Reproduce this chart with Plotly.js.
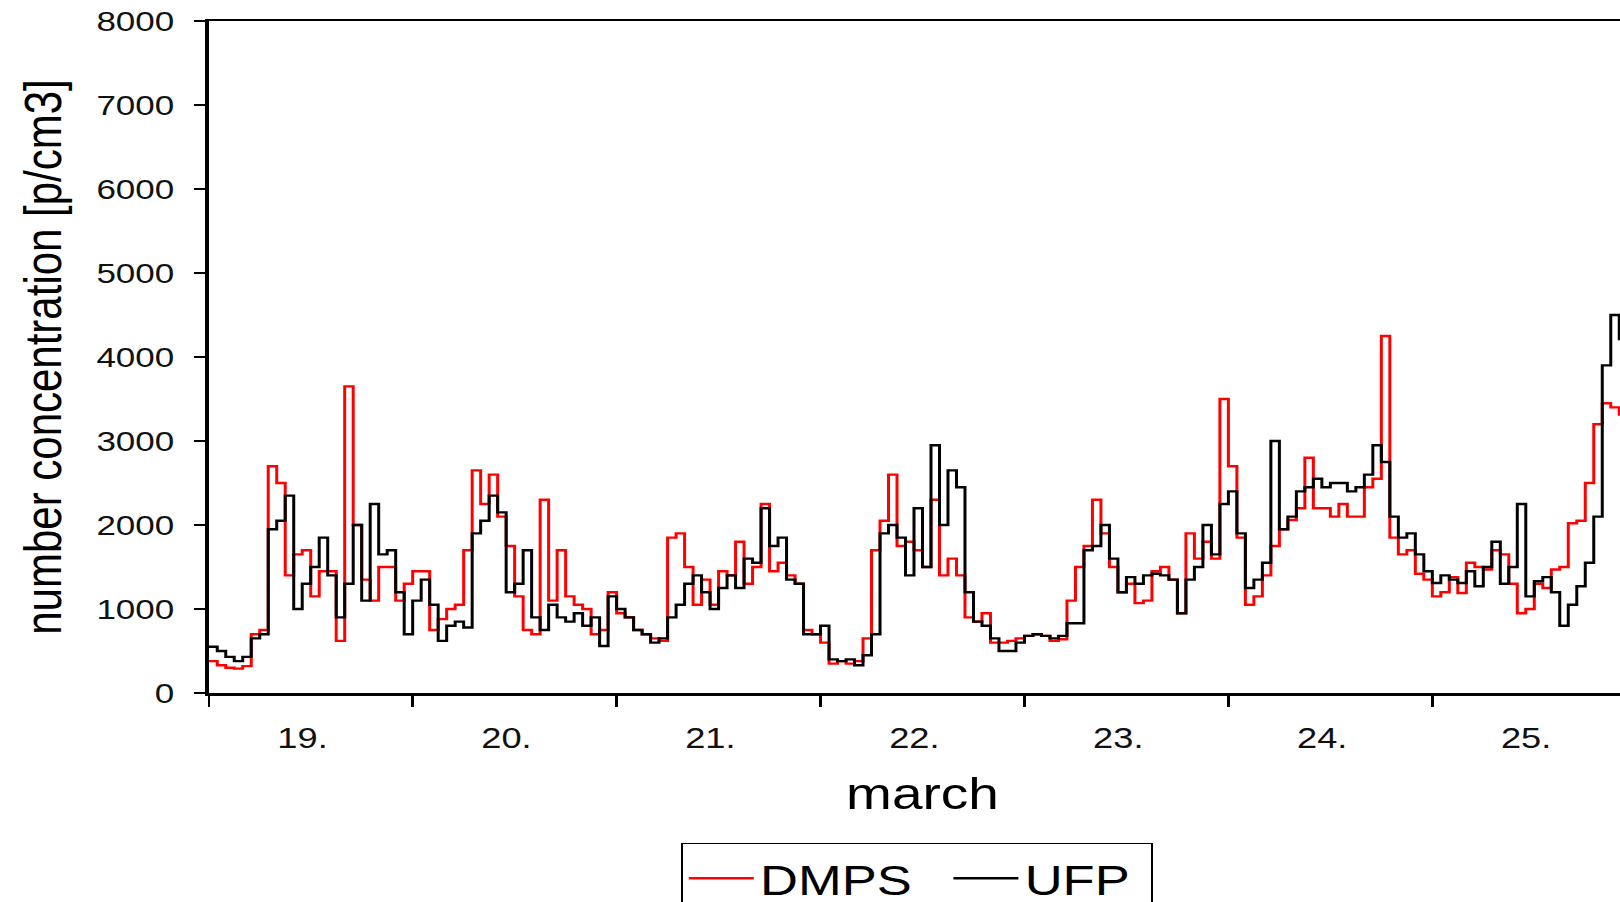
<!DOCTYPE html>
<html><head><meta charset="utf-8">
<script src="https://cdn.plot.ly/plotly-3.0.1.min.js"></script>
<style>
html,body{margin:0;padding:0;overflow:hidden;background:#fff;width:1620px;height:902px}
#wrap{position:absolute;left:0;top:0;transform:scaleX(1.25);transform-origin:0 0}
#chart{width:1320px;height:930px}
</style></head><body>
<div id="wrap"><div id="chart"></div></div>
<script>
// time grid: hourly values starting at 19 March 00:00
const startDay = 19;
const hoursPerStep = 1;

const dmps = [380,330,300,290,320,700,750,2700,2500,1400,
 1650,1700,1150,1450,1450,620,3650,2000,1350,1100,
 1500,1500,1100,1300,1450,1450,750,880,1000,1050,
 1700,2650,2250,2600,2100,1750,1150,750,700,2300,
 1100,1700,1150,1050,1000,700,750,1200,950,900,
 750,700,650,620,1850,1900,1500,1050,1350,1050,
 1450,1400,1800,1300,1500,2250,1450,1550,1400,1300,
 750,700,600,350,380,350,380,650,1700,2050,
 2600,1750,1800,1700,1500,2300,1400,1600,1400,900,
 850,950,600,600,620,650,680,700,680,620,
 640,1100,1500,1750,2300,1900,1500,1200,1300,1070,
 1100,1450,1500,1350,950,1900,1600,1800,1600,3500,
 2700,1850,1050,1150,1400,1750,1950,2060,2200,2800,
 2200,2200,2100,2250,2100,2100,2450,2550,4250,1850,
 1650,1700,1420,1350,1150,1200,1380,1190,1550,1500,
 1470,1700,1650,1300,950,1000,1300,1250,1470,1500,
 2020,2050,2500,3200,3450,3400,3300];

const ufp = [550,500,430,380,430,650,700,1950,2050,2350,
 1000,1300,1500,1850,1400,900,1300,2000,1100,2250,
 1650,1700,1200,700,1100,1350,1050,620,800,850,
 780,1900,2050,2350,2150,1200,1300,1700,900,750,
 1050,900,850,950,800,900,560,1150,1000,900,
 750,700,600,650,900,1050,1300,1400,1200,1000,
 1250,1400,1250,1600,1550,2200,1750,1850,1350,1300,
 700,700,800,400,380,400,330,450,700,1900,
 2000,1850,1400,2200,1500,2950,2000,2650,2450,1200,
 850,800,650,500,500,600,680,700,680,650,
 680,830,830,1700,1750,2000,1600,1200,1380,1300,
 1400,1420,1400,1350,950,1350,1500,2000,1650,2250,
 2400,1900,1250,1350,1550,3000,1950,2100,2400,2450,
 2550,2450,2500,2500,2400,2450,2600,2950,2750,2100,
 1850,1900,1650,1450,1310,1400,1350,1310,1450,1270,
 1500,1800,1300,1500,2250,1150,1330,1380,1200,800,
 1050,1270,1550,2100,3900,4500,4200];

const dayTicks = [19,20,21,22,23,24,25,26];
const dayLabels = ['19.','20.','21.','22.','23.','24.','25.'];
const dayLabelPos = [19.46,20.46,21.46,22.46,23.46,24.46,25.46];
const seriesNames = ['DMPS\u00a0\u00a0','UFP\u00a0'];
const seriesColors = ['#ff0000','#000000'];

const time = dmps.map((_, i) => startDay + i * hoursPerStep / 24);
const FONT = 'Liberation Sans, Arial, sans-serif';

const traces = [dmps, ufp].map((vals, k) => ({
  x: time, y: vals, type: 'scatter', mode: 'lines',
  name: seriesNames[k],
  line: {color: seriesColors[k], width: 2.4, shape: 'hv'}
}));

const layout = {
  width: 1320, height: 930,
  margin: {l: 167, r: 11, t: 21, b: 237, autoexpand: false},
  paper_bgcolor: '#fff', plot_bgcolor: '#fff',
  font: {family: FONT, color: '#000'},
  showlegend: true,
  xaxis: {
    range: [19, 26], showgrid: false, zeroline: false,
    showline: true, linecolor: '#000', linewidth: 2.5, mirror: true,
    tickmode: 'array', tickvals: dayLabelPos, ticktext: dayLabels,
    ticks: '', ticklabelstandoff: 18,
    tickfont: {family: FONT, size: 29, color: '#111'},
    minor: {tickmode: 'array', tickvals: dayTicks, ticks: 'outside', ticklen: 11, tickwidth: 2, tickcolor: '#000', showgrid: false},
    title: {text: 'march', font: {family: FONT, size: 44, color: '#000'}, standoff: 25}
  },
  yaxis: {
    range: [0, 8000], dtick: 1000, tick0: 0, showgrid: false, zeroline: false,
    showline: true, linecolor: '#000', linewidth: 3, mirror: true,
    ticks: 'outside', ticklen: 9, tickwidth: 2, tickcolor: '#000',
    ticklabelstandoff: 10,
    tickfont: {family: FONT, size: 28, color: '#111'},
    title: {text: 'number concentration [p/cm3]', font: {family: FONT, size: 42, color: '#000'}, standoff: 15}
  },
  legend: {
    orientation: 'h', x: 0.3306, xanchor: 'left', y: -0.2232, yanchor: 'top',
    bordercolor: '#000', borderwidth: 1.5, bgcolor: '#fff',
    font: {family: FONT, size: 42, color: '#000'},
    itemwidth: 52
  }
};

Plotly.newPlot('chart', traces, layout, {staticPlot: true, displayModeBar: false});
</script>
</body></html>
